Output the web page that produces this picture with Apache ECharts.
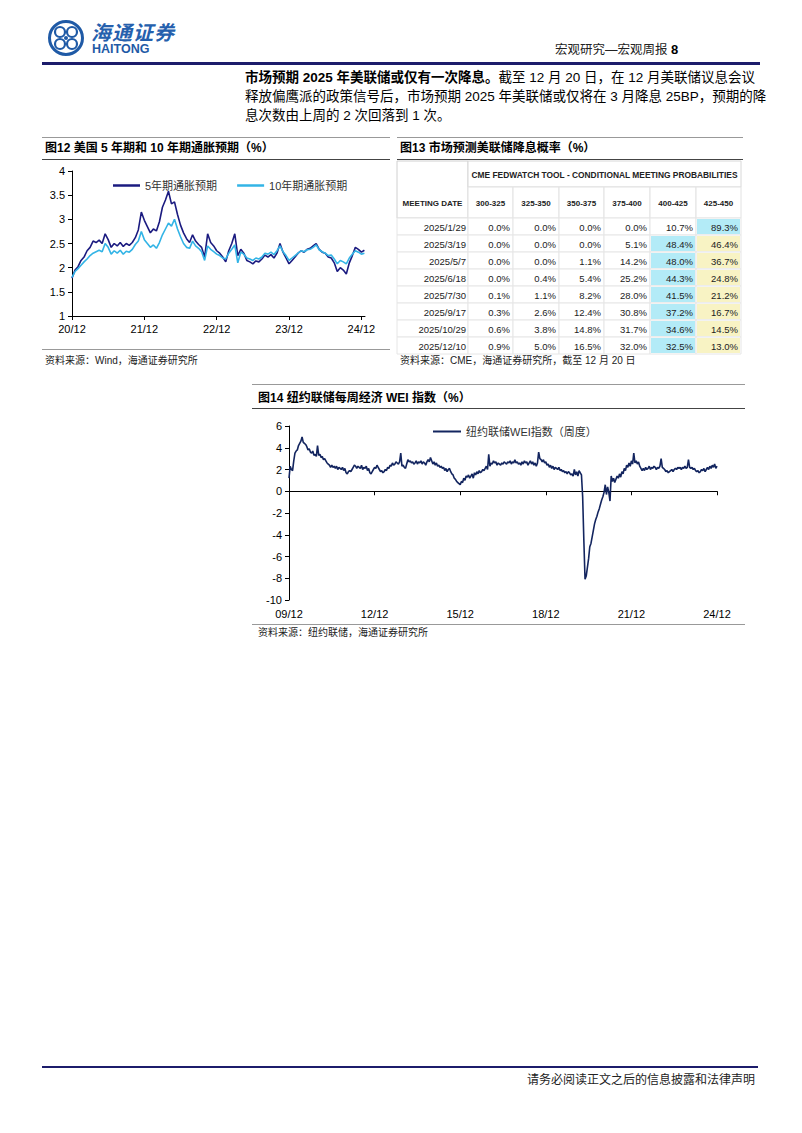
<!DOCTYPE html>
<html>
<head>
<meta charset="utf-8">
<script src="https://cdn.jsdelivr.net/npm/echarts@6/dist/echarts.min.js"></script>
<style>
  body{margin:0;width:802px;height:1133px;background:#fff;position:relative;overflow:hidden;
    font-family:"Liberation Sans",Arial,"Noto Sans CJK SC",sans-serif;color:#000}
  .abs{position:absolute}
  .hl{position:absolute;height:0}
  .para{position:absolute;left:245px;width:498px;font-size:13.5px;line-height:19px;text-align:justify;text-align-last:justify;white-space:nowrap}
  .ftitle{position:absolute;font-size:12px;font-weight:bold;line-height:16px;white-space:nowrap}
  .src{position:absolute;font-size:10px;line-height:14px;color:#222;white-space:nowrap}
</style>
</head>
<body>

<!-- 页眉 -->
<svg class="abs" style="left:46px;top:18px" width="42" height="42" viewBox="0 0 42 42">
  <circle cx="20" cy="20" r="16.5" fill="none" stroke="#1f5aa6" stroke-width="3"/>
  <circle cx="14" cy="14" r="5" fill="none" stroke="#1f5aa6" stroke-width="2.2"/>
  <circle cx="26" cy="14" r="5" fill="none" stroke="#1f5aa6" stroke-width="2.2"/>
  <circle cx="14" cy="26" r="5" fill="none" stroke="#1f5aa6" stroke-width="2.2"/>
  <circle cx="26" cy="26" r="5" fill="none" stroke="#1f5aa6" stroke-width="2.2"/>
  <circle cx="20" cy="20" r="2" fill="#1f5aa6"/>
</svg>
<div class="abs" style="left:91px;top:21px;font-size:20px;line-height:24px;color:#2560ad;font-style:italic;font-weight:bold;letter-spacing:1px">海通证券</div>
<div class="abs" style="left:92px;top:42px;font-size:12.5px;line-height:14px;color:#1f5aa6;font-weight:bold">HAITONG</div>
<div class="abs" style="left:555px;top:42px;font-size:12.5px;line-height:16px;color:#222">宏观研究—宏观周报 <b style="font-size:13px;color:#000">8</b></div>
<div class="hl" style="left:42px;top:62px;width:718px;border-top:3px solid #1c1c6b"></div>

<!-- 正文 -->
<div class="para" style="top:68px"><b>市场预期 2025 年美联储或仅有一次降息。</b>截至 12 月 20 日，在 12 月美联储议息会议</div>
<div class="para" style="top:87px">释放偏鹰派的政策信号后，市场预期 2025 年美联储或仅将在 3 月降息 25BP，预期的降</div>
<div class="para" style="top:106px;text-align-last:left">息次数由上周的 2 次回落到 1 次。</div>

<!-- 图12 -->
<div class="hl" style="left:42px;top:137px;width:348px;border-top:1px solid #999"></div>
<div class="ftitle" style="left:45px;top:140px">图12 美国 5 年期和 10 年期通胀预期（%）</div>
<div class="hl" style="left:42px;top:159px;width:348px;border-top:1px solid #444"></div>
<div id="fig12" class="abs" style="left:42px;top:160px;width:350px;height:188px"></div>
<div class="hl" style="left:42px;top:349px;width:348px;border-top:1px solid #999"></div>
<div class="src" style="left:45px;top:354px">资料来源：Wind，海通证券研究所</div>

<!-- 图13 -->
<div class="hl" style="left:397px;top:137px;width:346px;border-top:1px solid #999"></div>
<div class="ftitle" style="left:400px;top:140px">图13 市场预测美联储降息概率（%）</div>
<div class="hl" style="left:397px;top:159px;width:346px;border-top:1px solid #444"></div>
<div id="fig13" class="abs" style="left:395px;top:160px;width:350px;height:196px"></div>
<div class="src" style="left:400px;top:354px">资料来源：CME，海通证券研究所，截至 12 月 20 日</div>

<!-- 图14 -->
<div class="hl" style="left:252px;top:384px;width:493px;border-top:1px solid #999"></div>
<div class="ftitle" style="left:258px;top:390px">图14 纽约联储每周经济 WEI 指数（%）</div>
<div class="hl" style="left:252px;top:408px;width:493px;border-top:1px solid #444"></div>
<div id="fig14" class="abs" style="left:252px;top:409px;width:493px;height:215px"></div>
<div class="hl" style="left:252px;top:624px;width:493px;border-top:1px solid #999"></div>
<div class="src" style="left:258px;top:626px">资料来源：纽约联储，海通证券研究所</div>

<!-- 页脚 -->
<div class="hl" style="left:42px;top:1066px;width:716px;border-top:2px solid #1c1c6b"></div>
<div class="abs" style="left:527px;top:1072px;font-size:12px;line-height:16px;color:#222">请务必阅读正文之后的信息披露和法律声明</div>

<script>
  // 图12 通胀预期：自 2020/12 起每半个月取一个读数
  const beStep = 0.5
  const be5y = [
    1.78,1.95,2.02,2.15,2.22,2.35,2.42,2.55,2.52,2.57,2.50,2.70,2.58,2.42,2.50,2.45,2.52,2.44,2.50,2.46,2.52,2.62,2.78,3.15,
    2.98,2.85,2.72,2.80,2.76,2.95,3.25,3.40,3.58,3.32,3.36,3.10,2.88,2.72,2.60,2.52,2.68,2.55,2.48,2.42,2.22,2.70,2.52,2.45,
    2.35,2.30,2.22,2.12,2.35,2.50,2.70,2.25,2.38,2.30,2.15,2.12,2.08,2.14,2.12,2.18,2.26,2.22,2.27,2.20,2.30,2.50,2.32,2.20,
    2.08,2.15,2.22,2.30,2.35,2.32,2.38,2.40,2.45,2.50,2.38,2.32,2.30,2.22,2.20,2.10,1.92,2.00,1.95,1.87,2.10,2.25,2.42,2.38,
    2.32,2.36
  ]
  const be10y = [
    1.80,1.92,1.98,2.05,2.12,2.18,2.25,2.30,2.33,2.36,2.33,2.50,2.42,2.28,2.35,2.30,2.36,2.28,2.34,2.32,2.38,2.48,2.55,2.75,
    2.58,2.50,2.42,2.47,2.40,2.52,2.68,2.80,2.92,2.86,3.00,2.80,2.64,2.50,2.42,2.40,2.55,2.45,2.40,2.33,2.15,2.45,2.38,2.33,
    2.28,2.25,2.20,2.18,2.30,2.38,2.47,2.10,2.32,2.28,2.20,2.18,2.15,2.20,2.18,2.22,2.30,2.28,2.32,2.27,2.35,2.45,2.33,2.25,
    2.15,2.20,2.25,2.30,2.35,2.33,2.37,2.38,2.42,2.47,2.37,2.33,2.30,2.25,2.26,2.18,2.08,2.15,2.12,2.08,2.20,2.28,2.35,2.32,
    2.28,2.30
  ]
  const beTicks = [0, 12, 24, 36, 48]

  // 图13 CME FedWatch
  const meetingDates = ['2025/1/29','2025/3/19','2025/5/7','2025/6/18','2025/7/30','2025/9/17','2025/10/29','2025/12/10']
  const rateBuckets = ['300-325','325-350','350-375','375-400','400-425','425-450']
  const probs = [
    [0.0, 0.0, 0.0, 0.0, 10.7, 89.3],
    [0.0, 0.0, 0.0, 5.1, 48.4, 46.4],
    [0.0, 0.0, 1.1, 14.2, 48.0, 36.7],
    [0.0, 0.4, 5.4, 25.2, 44.3, 24.8],
    [0.1, 1.1, 8.2, 28.0, 41.5, 21.2],
    [0.3, 2.6, 12.4, 30.8, 37.2, 16.7],
    [0.6, 3.8, 14.8, 31.7, 34.6, 14.5],
    [0.9, 5.0, 16.5, 32.0, 32.5, 13.0]
  ]
  const currentBucket = 5

  // 图14 WEI：自 2009/12 起每半个月取一个读数
  const weiStep = 0.5
  const wei = [
    1.2,2.3,2.0,1.9,2.8,3.5,3.7,3.8,4.2,4.4,4.6,5.0,4.5,4.4,4.3,4.1,3.8,3.9,3.6,3.5,3.7,3.3,3.4,3.2,
    4.2,3.3,3.4,3.1,3.2,2.9,3.0,2.8,2.6,2.5,2.4,2.2,2.4,2.2,2.3,2.1,2.3,2.0,2.2,2.1,2.0,2.2,1.9,2.1,
    1.7,1.6,1.8,1.9,1.8,2.0,2.2,2.4,2.3,2.1,2.3,2.2,2.1,2.4,2.0,2.2,2.1,2.3,1.9,2.1,1.7,1.6,1.8,2.0,
    2.2,2.1,2.4,2.2,2.0,1.8,1.9,1.7,1.8,2.0,1.9,2.2,2.1,2.4,2.3,2.6,2.4,2.5,2.7,2.6,2.5,2.7,3.5,2.3,
    2.4,2.2,2.1,2.5,2.9,2.7,2.8,2.6,2.7,2.5,2.6,2.8,2.5,2.7,2.6,2.8,2.5,2.7,2.6,2.4,2.7,2.9,2.7,3.1,
    2.8,2.5,2.7,2.4,2.6,2.3,2.4,2.2,2.3,2.1,2.2,1.9,2.1,1.8,2.0,2.1,1.8,1.6,1.5,1.2,1.1,0.9,0.8,0.7,
    0.6,0.9,0.8,1.2,1.0,1.4,1.3,1.5,1.2,1.4,1.6,1.2,1.7,1.5,1.8,1.6,1.9,1.7,1.8,2.0,1.9,2.1,2.3,2.0,
    3.4,2.3,2.6,2.5,2.8,2.6,2.7,2.4,2.6,2.5,2.4,2.6,2.5,2.7,2.6,2.5,2.7,2.6,2.8,2.5,2.7,2.6,2.9,2.6,
    2.7,2.5,2.6,2.4,2.7,2.5,2.8,2.6,2.7,2.4,2.6,2.8,2.5,2.7,2.4,2.6,2.3,2.6,3.6,3.0,2.9,2.7,2.9,2.6,
    2.7,2.4,2.5,2.2,2.4,2.1,2.3,2.0,2.2,2.1,2.0,2.2,1.9,2.0,1.8,1.9,1.7,1.8,1.6,1.8,1.7,1.5,1.6,1.4,
    2.0,1.5,1.8,1.4,1.9,1.7,1.5,-0.5,-4.5,-8.1,-7.8,-7.0,-6.2,-5.1,-4.8,-4.2,-3.6,-3.0,-2.6,-2.3,-1.9,-1.6,-1.2,-0.8,
    -0.5,-0.1,0.6,-0.3,0.4,-0.1,-0.9,1.4,0.9,1.2,0.8,1.1,1.4,1.2,1.6,1.3,1.8,1.6,2.1,1.9,2.4,2.2,2.6,2.3,
    2.8,2.5,3.5,2.6,2.8,2.5,2.7,2.3,2.1,1.9,2.1,1.9,2.2,2.0,2.1,2.3,2.0,2.2,2.1,2.3,2.2,2.0,2.2,2.1,
    2.3,3.0,2.2,2.1,2.0,1.8,1.9,1.7,1.8,1.9,2.0,1.8,2.0,2.1,2.0,2.2,2.1,2.2,2.0,2.2,2.1,2.3,2.1,2.2,
    2.9,2.2,2.1,2.2,2.0,2.1,1.9,1.8,1.9,1.7,1.8,2.0,1.9,2.1,1.8,2.0,2.2,2.0,2.3,2.1,2.4,2.2,2.5,2.1,
    2.3
  ]

  const FONT = "'Liberation Sans', Arial, 'Noto Sans CJK SC', sans-serif"

  // ---------- 图12 ----------
  let chart12 = echarts.init(document.getElementById('fig12'), null, {renderer: 'svg'})
  chart12.setOption({
    animation: false,
    textStyle: {fontFamily: FONT},
    grid: {left: 30, top: 11, width: 293, height: 145},
    legend: {
      left: 66, top: 15, itemWidth: 27, itemHeight: 2.5, itemGap: 20, icon: 'rect',
      textStyle: {fontSize: 11, color: '#333', fontFamily: FONT},
      data: ['5年期通胀预期', '10年期通胀预期']
    },
    xAxis: {
      type: 'value', min: 0, max: 48.6,
      axisLine: {lineStyle: {color: '#000', width: 1}},
      axisTick: {customValues: beTicks, length: 4, lineStyle: {color: '#000'}},
      axisLabel: {customValues: beTicks, color: '#000', fontSize: 11, margin: 7,
        formatter: v => (20 + Math.round(v / 12)) + '/12'},
      splitLine: {show: false}
    },
    yAxis: {
      type: 'value', min: 1, max: 4, interval: 0.5,
      axisLine: {show: true, lineStyle: {color: '#000', width: 1}},
      axisTick: {show: true, length: 4, lineStyle: {color: '#000'}},
      axisLabel: {color: '#000', fontSize: 11, margin: 7},
      splitLine: {show: false}
    },
    series: [
      {name: '5年期通胀预期', type: 'line', showSymbol: false, z: 3,
        lineStyle: {color: '#1b1b80', width: 1.6}, itemStyle: {color: '#1b1b80'},
        data: be5y.map((v, i) => [i * beStep, v])},
      {name: '10年期通胀预期', type: 'line', showSymbol: false, z: 4,
        lineStyle: {color: '#33b4e6', width: 1.6}, itemStyle: {color: '#33b4e6'},
        data: be10y.map((v, i) => [i * beStep, v])}
    ]
  })

  // ---------- 图13 表格 ----------
  const colEdges = [0, 71, 116, 162, 207, 253, 299, 344]
  const rowEdges = [0, 26, 57, 74, 91, 108, 125, 142, 159, 176, 193]
  let cells = []
  cells.push({c0: 0, c1: 1, r0: 0, r1: 2, tr: 1, text: 'MEETING DATE', bold: true, fs: 8, align: 'center', stroke: '#d0d0d0'})
  cells.push({c0: 1, c1: 7, r0: 0, r1: 1, tr: 0, text: 'CME FEDWATCH TOOL - CONDITIONAL MEETING PROBABILITIES', bold: true, fs: 8.4, align: 'center', stroke: '#d8d8d8'})
  rateBuckets.forEach((b, j) => {
    cells.push({c0: j + 1, c1: j + 2, r0: 1, r1: 2, tr: 1, text: b, bold: true, fs: 8, align: 'center', stroke: '#e2e2e2'})
  })
  meetingDates.forEach((d, i) => {
    const r = i + 2
    cells.push({c0: 0, c1: 1, r0: r, r1: r + 1, tr: r, text: d, align: 'right', pad: 2, stroke: '#e6e6e6'})
    const rowMax = Math.max.apply(null, probs[i])
    probs[i].forEach((p, j) => {
      let fill = null
      if (p === rowMax) fill = '#b3ebf7'
      else if (j === currentBucket) fill = '#f8f3c4'
      cells.push({c0: j + 1, c1: j + 2, r0: r, r1: r + 1, tr: r, text: p.toFixed(1) + '%', align: 'right', pad: 3, fill: fill, stroke: '#e6e6e6'})
    })
  })

  function renderCell(params, api) {
    const c = cells[api.value(2)]
    const p0 = api.coord([colEdges[c.c0], rowEdges[c.r0]])
    const p1 = api.coord([colEdges[c.c1], rowEdges[c.r1]])
    const t0 = api.coord([0, rowEdges[c.tr]])[1]
    const t1 = api.coord([0, rowEdges[c.tr + 1]])[1]
    const children = [{
      type: 'rect',
      shape: {x: p0[0], y: p0[1], width: p1[0] - p0[0], height: p1[1] - p0[1]},
      style: {fill: '#fff', stroke: c.stroke, lineWidth: 1}
    }]
    if (c.fill) {
      children.push({
        type: 'rect',
        shape: {x: p0[0] + 1, y: p0[1] + 1, width: p1[0] - p0[0] - 2, height: p1[1] - p0[1] - 2},
        style: {fill: c.fill}
      })
    }
    children.push({
      type: 'text',
      style: {
        x: c.align === 'right' ? p1[0] - c.pad : (p0[0] + p1[0]) / 2,
        y: (t0 + t1) / 2 + 0.5,
        text: c.text, align: c.align, verticalAlign: 'middle', fill: '#222',
        font: (c.bold ? 'bold ' + c.fs + 'px ' : '9.5px ') + FONT
      }
    })
    return {type: 'group', children: children}
  }

  let chart13 = echarts.init(document.getElementById('fig13'), null, {renderer: 'svg'})
  chart13.setOption({
    animation: false,
    grid: {left: 2, top: 1, width: 344, height: 193},
    xAxis: {type: 'value', min: 0, max: 344, show: false},
    yAxis: {type: 'value', min: 0, max: 193, inverse: true, show: false},
    series: [{
      type: 'custom', clip: false,
      renderItem: renderCell,
      data: cells.map((c, i) => [c.c0, c.r0, i])
    }]
  })

  // ---------- 图14 ----------
  let chart14 = echarts.init(document.getElementById('fig14'), null, {renderer: 'svg'})
  chart14.setOption({
    animation: false,
    textStyle: {fontFamily: FONT},
    grid: {left: 37, top: 17, width: 428, height: 174},
    legend: {
      left: 176, top: 12, itemWidth: 28, itemHeight: 2, icon: 'rect',
      textStyle: {fontSize: 11, color: '#333', fontFamily: FONT},
      data: ['纽约联储WEI指数（周度）']
    },
    xAxis: [
      {
        type: 'value', min: 0, max: 180, interval: 36, position: 'bottom',
        axisLine: {show: false, onZero: false}, axisTick: {show: false},
        axisLabel: {color: '#000', fontSize: 11, margin: 8,
          formatter: v => String(9 + Math.round(v / 12)).padStart(2, '0') + '/12'},
        splitLine: {show: false}
      },
      {
        type: 'value', min: 0, max: 180, interval: 36, position: 'bottom',
        axisLine: {show: true, onZero: true, lineStyle: {color: '#000', width: 1}},
        axisTick: {show: true, length: 4, lineStyle: {color: '#000'}},
        axisLabel: {show: false},
        splitLine: {show: false}
      }
    ],
    yAxis: {
      type: 'value', min: -10, max: 6, interval: 2,
      axisLine: {show: true, onZero: false, lineStyle: {color: '#000', width: 1}},
      axisTick: {show: true, length: 4, lineStyle: {color: '#000'}},
      axisLabel: {color: '#000', fontSize: 11, margin: 7},
      splitLine: {show: false}
    },
    series: [{
      name: '纽约联储WEI指数（周度）', type: 'line', showSymbol: false, xAxisIndex: 0,
      lineStyle: {color: '#13255f', width: 1.6}, itemStyle: {color: '#13255f'},
      data: wei.map((v, i) => [i * weiStep, v])
    }]
  })
</script>
</body>
</html>
